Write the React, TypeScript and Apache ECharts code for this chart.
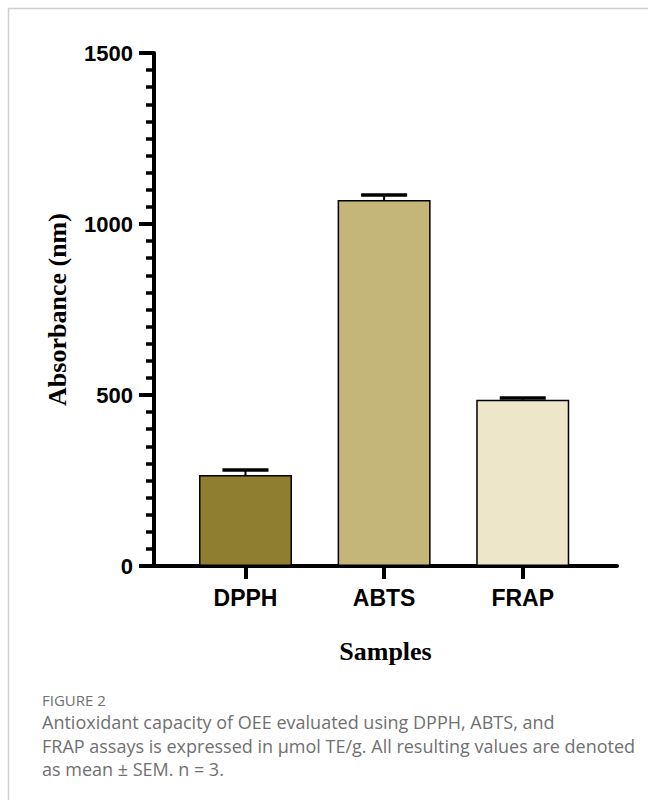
import React, { useEffect, useRef } from "react";
import * as echarts from "echarts";

const categories = ["DPPH", "ABTS", "FRAP"];
const values = [266, 1070, 486];
const errors = [15, 15, 5];
const barColors = ["#8f7d30", "#c4b578", "#ede6c8"];
const yTicks = { min: 0, max: 1500, interval: 500 };
const yAxisTitle = "Absorbance (nm)";
const xAxisTitle = "Samples";
const captionTitle = "FIGURE 2";
const captionLines = [
  "Antioxidant capacity of OEE evaluated using DPPH, ABTS, and",
  "FRAP assays is expressed in µmol TE/g. All resulting values are denoted",
  "as mean ± SEM. n = 3.",
];

export default function App() {
  const ref = useRef<HTMLDivElement>(null);
  useEffect(() => {
    if (!ref.current) return;
    const chart = echarts.init(ref.current, null, { renderer: "svg" });
    const xs = categories.map((_, i) => i + 1);
    const option: any = {
      animation: false,
      backgroundColor: "#ffffff",
      grid: { left: 154, right: 31, top: 53, bottom: 234, containLabel: false },
      xAxis: {
        type: "value",
        min: 0.34,
        max: 3.68,
        splitLine: { show: false },
        axisLine: { show: true, onZero: false, lineStyle: { color: "#000", width: 4 } },
        axisTick: { show: true, customValues: xs, length: 13, lineStyle: { color: "#000", width: 4 } },
        axisLabel: {
          customValues: xs,
          formatter: (v: number) => categories[Math.round(v) - 1] ?? "",
          fontFamily: "Liberation Sans, Arial, sans-serif",
          fontWeight: "bold",
          fontSize: 23,
          color: "#000",
          margin: 20,
        },
        name: xAxisTitle,
        nameLocation: "middle",
        nameGap: 72,
        nameTextStyle: {
          fontFamily: "Liberation Serif, Times New Roman, serif",
          fontWeight: "bold",
          fontSize: 26,
          color: "#000",
        },
      },
      yAxis: {
        type: "value",
        min: yTicks.min,
        max: yTicks.max,
        interval: yTicks.interval,
        splitLine: { show: false },
        axisLine: { show: true, lineStyle: { color: "#000", width: 4 } },
        axisTick: { show: true, length: 15, lineStyle: { color: "#000", width: 4 } },
        minorTick: { show: true, splitNumber: 10, length: 8, lineStyle: { color: "#000", width: 3.5 } },
        axisLabel: {
          formatter: (v: number) => String(v),
          fontFamily: "Liberation Sans, Arial, sans-serif",
          fontWeight: "bold",
          fontSize: 22,
          color: "#000",
          margin: 21,
        },
        name: yAxisTitle,
        nameLocation: "middle",
        nameGap: 84,
        nameTextStyle: {
          fontFamily: "Liberation Serif, Times New Roman, serif",
          fontWeight: "bold",
          fontSize: 26,
          color: "#000",
        },
      },
      series: [
        {
          type: "bar",
          barWidth: 93,
          data: values.map((v, i) => ({
            value: [xs[i], v],
            itemStyle: { color: barColors[i], borderColor: "#000", borderWidth: 1.5 },
          })),
        },
        {
          type: "custom",
          z: 5,
          data: values.map((v, i) => [xs[i], v, errors[i]]),
          renderItem: (params: any, api: any) => {
            const x = api.value(0);
            const v = api.value(1);
            const e = api.value(2);
            const base = api.coord([x, v]);
            const top = api.coord([x, v + e]);
            const half = 23;
            return {
              type: "group",
              children: [
                {
                  type: "line",
                  shape: { x1: base[0], y1: base[1], x2: top[0], y2: top[1] },
                  style: { stroke: "#000", lineWidth: 2 },
                },
                {
                  type: "line",
                  shape: { x1: top[0] - half, y1: top[1], x2: top[0] + half, y2: top[1] },
                  style: { stroke: "#000", lineWidth: 3.5 },
                },
              ],
            };
          },
        },
      ],
      graphic: [
        { type: "line", shape: { x1: 8, y1: 8.5, x2: 648, y2: 8.5 }, style: { stroke: "#cfcfcf", lineWidth: 1.5 } },
        { type: "line", shape: { x1: 8.5, y1: 8, x2: 8.5, y2: 800 }, style: { stroke: "#cfcfcf", lineWidth: 1.5 } },
        {
          type: "text",
          x: 42,
          y: 700,
          style: {
            text: captionTitle,
            fill: "#707070",
            font: "500 15px 'Open Sans', sans-serif",
            textVerticalAlign: "middle",
          },
        },
        ...captionLines.map((t, i) => ({
          type: "text",
          x: 42,
          y: 722 + i * 23.5,
          style: {
            text: t,
            fill: "#707070",
            font: "18px 'Open Sans', sans-serif",
            textVerticalAlign: "middle",
          },
        })),
      ],
    };
    chart.setOption(option);
    return () => chart.dispose();
  }, []);
  return (
    <div
      ref={ref}
      style={{ position: "absolute", left: 0, top: 0, width: 648, height: 800, background: "#fff" }}
    />
  );
}
